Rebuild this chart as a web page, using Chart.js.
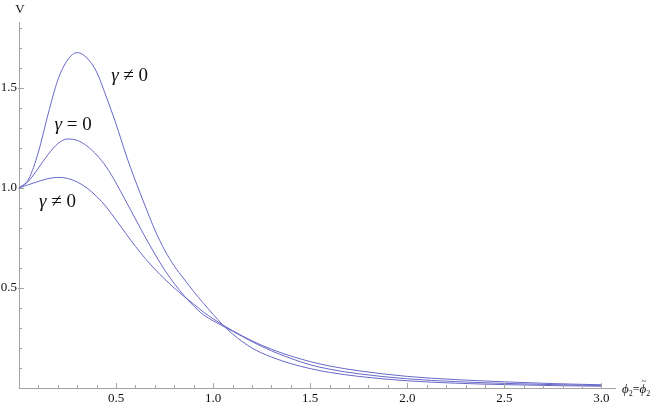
<!DOCTYPE html>
<html>
<head>
<meta charset="utf-8">
<script src="https://cdn.jsdelivr.net/npm/chart.js@4.4.0/dist/chart.umd.min.js"></script>
<style>
html, body { margin:0; padding:0; background:#fff; }
#wrap { width:654px; height:406px; }
</style>
</head>
<body>
<div id="wrap"><canvas id="myChart" width="654" height="406"></canvas></div>
<script>
// phi_2 values (x) and the three potential curves V(phi_2)
var phi = [0, 0.05, 0.1, 0.15, 0.2, 0.25, 0.3, 0.35, 0.4, 0.45, 0.5, 0.55, 0.6, 0.65, 0.7, 0.75, 0.8, 0.85, 0.9, 0.95, 1.0, 1.05, 1.1, 1.2, 1.3, 1.4, 1.5, 1.6, 1.75, 2.0, 2.25, 2.5, 2.75, 3.0];
var vUpper  = [1.0, 1.045, 1.18, 1.37, 1.54, 1.64, 1.677, 1.65, 1.58, 1.455, 1.32, 1.17, 1.035, 0.91, 0.79, 0.69, 0.61, 0.545, 0.482, 0.424, 0.368, 0.316, 0.27, 0.2, 0.155, 0.122, 0.097, 0.078, 0.058, 0.036, 0.024, 0.017, 0.012, 0.009];
var vMiddle = [1.0, 1.035, 1.10, 1.168, 1.222, 1.245, 1.238, 1.21, 1.165, 1.105, 1.025, 0.935, 0.845, 0.755, 0.67, 0.59, 0.522, 0.462, 0.41, 0.366, 0.336, 0.31, 0.284, 0.232, 0.186, 0.148, 0.116, 0.094, 0.071, 0.046, 0.032, 0.023, 0.017, 0.012];
var vLower  = [1.0, 1.017, 1.033, 1.047, 1.053, 1.048, 1.03, 1.0, 0.958, 0.905, 0.84, 0.773, 0.708, 0.648, 0.594, 0.545, 0.5, 0.458, 0.42, 0.38, 0.346, 0.315, 0.287, 0.236, 0.194, 0.16, 0.132, 0.11, 0.086, 0.058, 0.042, 0.031, 0.022, 0.016];
var xTicks = [0.5, 1.0, 1.5, 2.0, 2.5, 3.0];
var yTicks = [0.5, 1.0, 1.5];
// curve labels: text, x, y (data coords)
var labelText = ['\u03B3 \u2260 0', '\u03B3 = 0', '\u03B3 \u2260 0'];
var labelX = [0.572, 0.281, 0.201];
var labelY = [1.56, 1.315, 0.93];

var lineColor = 'rgb(104, 104, 200)';
var axisColor = '#a4a4a4';
var serif = "'Liberation Serif', 'Times New Roman', Times, 'DejaVu Serif', 'Noto Serif', serif";

function toPoints(vals) {
    return phi.map(function(x, i) { return { x: x, y: vals[i] }; });
}

function curve(vals) {
    return {
        data: toPoints(vals),
        borderColor: lineColor,
        borderWidth: 1,
        pointRadius: 0,
        fill: false,
        cubicInterpolationMode: 'monotone'
    };
}

// ticks, axis titles and curve labels
var decor = {
    id: 'decor',
    afterDraw: function(chart) {
        var c = chart.ctx;
        var xs = chart.scales.x, ys = chart.scales.y;
        var left = chart.chartArea.left, bottom = chart.chartArea.bottom;
        c.save();
        c.strokeStyle = axisColor;
        c.lineWidth = 1;
        c.beginPath();
        for (var i = 1; i <= 30; i++) {
            var px = Math.round(xs.getPixelForValue(i / 10)) + 0.5;
            var major = i % 5 == 0;
            c.moveTo(px, bottom + (major ? 1 : 0));
            c.lineTo(px, bottom - (major ? 5 : 3));
        }
        for (var j = 1; j <= 18; j++) {
            var py = Math.round(ys.getPixelForValue(j / 10)) + 0.5;
            var maj = j % 5 == 0;
            c.moveTo(left - (maj ? 1 : 0), py);
            c.lineTo(left + (maj ? 5 : 3), py);
        }
        c.stroke();

        c.fillStyle = '#111';
        // y axis title
        c.font = '13px ' + serif;
        c.textAlign = 'center';
        c.textBaseline = 'alphabetic';
        c.fillText('V', left + 1, 13);

        // x axis title: phi_2 = phi~_2
        var x0 = 622, base = 393;
        c.textAlign = 'left';
        c.font = 'italic 13px ' + serif;
        c.fillText('\u03D5', x0, base);
        x0 += c.measureText('\u03D5').width;
        c.font = '8px ' + serif;
        c.fillText('2', x0, base + 3);
        x0 += c.measureText('2').width;
        c.font = '12px ' + serif;
        c.fillText('=', x0, base);
        x0 += c.measureText('=').width;
        c.font = 'italic 13px ' + serif;
        var w = c.measureText('\u03D5').width;
        c.fillText('\u03D5', x0, base);
        c.font = '9px ' + serif;
        c.textAlign = 'center';
        c.fillText('~', x0 + w / 2 + 1, base - 9);
        c.textAlign = 'left';
        x0 += w;
        c.font = '8px ' + serif;
        c.fillText('2', x0, base + 3);

        // curve labels
        c.textBaseline = 'middle';
        for (var k = 0; k < labelText.length; k++) {
            var parts = labelText[k].split(' ');
            var cx = xs.getPixelForValue(labelX[k]);
            var cy = ys.getPixelForValue(labelY[k]);
            c.font = '19px ' + serif;
            var full = c.measureText(labelText[k]).width;
            var sx = cx - full / 2;
            c.textAlign = 'left';
            c.font = 'italic 19px ' + serif;
            c.fillText(parts[0], sx, cy);
            sx += c.measureText(parts[0] + ' ').width;
            c.font = '19px ' + serif;
            c.fillText(parts[1] + ' ' + parts[2], sx, cy);
        }
        c.restore();
    }
};

var ctx = document.getElementById('myChart').getContext('2d');
var myChart = new Chart(ctx, {
    type: 'line',
    data: {
        datasets: [curve(vUpper), curve(vMiddle), curve(vLower)]
    },
    options: {
        responsive: false,
        animation: false,
        layout: { autoPadding: false, padding: { top: 22, right: 39, left: 0, bottom: 0 } },
        plugins: { legend: { display: false }, tooltip: { enabled: false } },
        scales: {
            x: {
                type: 'linear',
                min: 0,
                max: 3.07,
                afterFit: function(s) { s.height = 18; },
                afterBuildTicks: function(s) { s.ticks = xTicks.map(function(v) { return { value: v }; }); },
                grid: { display: true, drawOnChartArea: false, drawTicks: false },
                border: { color: axisColor },
                ticks: {
                    padding: 3,
                    maxRotation: 0,
                    autoSkip: false,
                    color: '#111',
                    font: { family: serif, size: 13 },
                    callback: function(v) { return v.toFixed(1); }
                }
            },
            y: {
                min: 0,
                max: 1.83,
                afterFit: function(s) { s.width = 19; },
                afterBuildTicks: function(s) { s.ticks = yTicks.map(function(v) { return { value: v }; }); },
                grid: { display: true, drawOnChartArea: false, drawTicks: false },
                border: { color: axisColor },
                ticks: {
                    padding: 2,
                    autoSkip: false,
                    color: '#111',
                    font: { family: serif, size: 13 },
                    callback: function(v) { return v.toFixed(1); }
                }
            }
        }
    },
    plugins: [decor]
});
</script>
</body>
</html>
